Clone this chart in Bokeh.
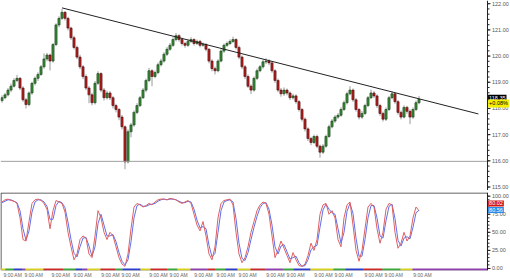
from bokeh.plotting import figure
from bokeh.layouts import column
from bokeh.models import (FixedTicker, Label, Range1d, ColumnDataSource,
                          CustomJSTickFormatter)
from bokeh.core.properties import value
from bokeh.embed import file_html
from bokeh.resources import INLINE

# ---------------- data ----------------
opens = [118.30,118.41,118.52,118.70,118.85,119.07,119.15,118.78,118.33,118.15,
118.59,118.96,119.15,119.30,119.59,119.89,120.04,119.81,120.44,121.19,
121.44,121.67,121.44,121.07,120.70,120.33,119.96,119.59,119.22,118.78,
118.52,118.22,118.96,119.33,118.70,118.41,118.59,118.41,118.11,117.96,
117.67,117.30,115.96,117.11,117.37,117.85,118.11,118.41,118.70,119.07,
119.44,119.22,119.37,119.67,119.81,120.07,120.26,120.41,120.63,120.78,
120.63,120.48,120.41,120.56,120.63,120.48,120.56,120.41,120.44,120.26,
119.81,119.52,119.44,119.81,120.19,120.41,120.48,120.56,120.63,120.33,
119.96,119.59,119.22,118.85,118.70,119.15,119.44,119.59,119.78,119.81,
119.74,119.44,119.07,118.70,118.56,118.70,118.59,118.41,118.48,118.26,
117.96,117.59,117.22,116.85,116.70,116.93,116.56,116.33,116.56,116.93,
117.30,117.52,117.67,117.74,117.96,118.22,118.56,118.70,118.33,117.96,
117.67,117.81,118.11,118.41,118.59,118.48,118.11,117.81,117.59,117.96,
118.41,118.56,118.26,117.85,117.67,118.04,117.89,117.67,117.96,118.22]

closes = [118.41,118.52,118.70,118.85,119.07,119.15,118.78,118.33,118.15,118.59,
118.96,119.15,119.30,119.59,119.89,120.04,119.81,120.44,121.19,121.44,
121.67,121.44,121.07,120.70,120.33,119.96,119.59,119.22,118.78,118.52,
118.22,118.96,119.33,118.70,118.41,118.59,118.41,118.11,117.96,117.67,
117.30,115.96,117.11,117.37,117.85,118.11,118.41,118.70,119.07,119.44,
119.22,119.37,119.67,119.81,120.07,120.26,120.41,120.63,120.78,120.63,
120.48,120.41,120.56,120.63,120.48,120.56,120.41,120.44,120.26,119.81,
119.52,119.44,119.81,120.19,120.41,120.48,120.56,120.63,120.33,119.96,
119.59,119.22,118.85,118.70,119.15,119.44,119.59,119.78,119.81,119.74,
119.44,119.07,118.70,118.56,118.70,118.59,118.41,118.48,118.26,117.96,
117.59,117.22,116.85,116.70,116.93,116.56,116.33,116.56,116.93,117.30,
117.52,117.67,117.74,117.96,118.22,118.56,118.70,118.33,117.96,117.67,
117.81,118.11,118.41,118.59,118.48,118.11,117.81,117.59,117.96,118.41,
118.56,118.26,117.85,117.67,118.04,117.89,117.67,117.96,118.22,118.35]

highs = [118.50,118.60,118.78,118.95,119.15,119.28,119.20,118.85,118.40,118.65,
119.02,119.22,119.38,119.66,120.10,120.12,120.09,120.50,121.25,121.52,
121.80,121.72,121.50,121.12,120.78,120.40,120.05,119.66,119.30,118.86,
118.60,119.05,119.42,119.38,118.78,118.68,118.66,118.48,118.18,118.02,
117.75,117.35,117.20,117.45,117.92,118.20,118.48,118.78,119.14,119.55,
119.50,119.45,119.75,119.90,120.15,120.35,120.50,120.72,120.88,120.84,
120.70,120.55,120.64,120.72,120.68,120.63,120.62,120.52,120.50,120.30,
119.88,119.60,119.88,120.26,120.48,120.56,120.64,120.74,120.68,120.40,
120.02,119.66,119.30,118.92,119.22,119.52,119.66,119.86,119.92,119.88,
119.80,119.50,119.14,118.78,118.80,118.76,118.65,118.56,118.54,118.32,
118.02,117.66,117.28,116.92,117.00,117.00,116.62,116.64,117.00,117.38,
117.60,117.75,117.82,118.04,118.30,118.64,118.85,118.76,118.40,118.02,
117.90,118.18,118.48,118.72,118.66,118.54,118.18,117.88,118.04,118.48,
118.65,118.62,118.32,117.92,118.12,118.10,117.96,118.04,118.30,118.48]

lows = [118.22,118.35,118.46,118.62,118.80,119.00,118.70,118.25,118.00,118.08,
118.52,118.88,119.05,119.24,119.52,119.80,119.45,119.75,120.38,121.10,
121.38,121.36,120.98,120.62,120.25,119.88,119.50,119.12,118.70,118.20,
118.12,118.15,118.90,118.62,118.30,118.34,118.32,118.00,117.85,117.55,
117.20,115.68,115.90,116.90,117.30,117.78,118.05,118.36,118.62,119.00,
118.85,119.15,119.30,119.60,119.75,120.00,120.20,120.35,120.56,120.55,
120.40,120.32,120.35,120.50,120.40,120.42,120.33,120.36,120.18,119.72,
119.42,119.30,119.38,119.76,120.12,120.35,120.42,120.50,120.25,119.88,
119.50,119.12,118.78,118.55,118.64,119.08,119.38,119.52,119.70,119.65,
119.36,118.98,118.62,118.45,118.48,118.50,118.32,118.34,118.18,117.88,
117.50,117.12,116.76,116.60,116.64,116.48,116.12,116.26,116.50,116.88,
117.24,117.45,117.60,117.68,117.90,118.15,118.50,118.25,117.88,117.58,
117.60,117.75,118.05,118.35,118.40,118.02,117.72,117.50,117.52,117.90,
118.35,118.18,117.76,117.58,117.62,117.80,117.40,117.60,117.90,118.16]

stoch_k = [92,95,96,94,93,90,70,40,38,65,
90,95,96,94,90,82,55,80,94,92,
90,78,50,30,12,20,40,45,42,20,
15,45,80,70,50,40,50,45,30,15,
6,3,20,55,85,90,88,85,87,90,
88,92,95,96,96,95,97,96,95,92,
90,92,94,90,75,60,52,65,45,20,
12,30,70,90,94,95,96,88,50,20,
8,15,30,50,65,80,88,92,90,75,
45,15,25,38,28,18,8,22,12,4,
3,6,18,35,25,40,75,88,90,75,
80,70,40,30,70,88,92,60,25,10,
25,55,85,90,85,55,35,50,82,90,
88,50,28,35,50,38,45,70,85,80.02]

stoch_d = [91,93,95,95,93,91,80,55,39,52,
78,92,95,95,92,86,68,68,87,93,
91,84,64,40,21,16,30,42,43,31,
17,30,62,75,60,45,45,47,37,22,
10,5,12,37,70,87,89,86,86,88,
89,90,93,95,96,95,96,96,95,93,
91,91,93,92,82,67,56,58,55,32,
16,21,50,80,92,94,95,92,69,35,
14,11,22,40,57,72,84,90,91,82,
60,30,20,31,33,23,13,15,17,8,
3,4,12,26,30,32,57,81,89,82,
77,75,55,35,50,79,90,76,42,17,
17,40,70,87,87,70,45,42,66,86,
89,69,39,31,42,44,41,57,77,80.56]

trend_x = [20, 158.8]
trend_y = [121.84, 117.79]
support_level = 115.98

last_price_text = "118.35"
change_text = "+0.08%"
k_text = "80.02"
d_text = "80.56"

price_ticks = [115, 116, 117, 118, 119, 120, 121, 122]
price_minor = [115 + 0.2 * i for i in range(36)]
osc_ticks = [0, 25, 50, 75, 100]
osc_minor = list(range(0, 105, 5))

# session (9:00 AM) markers along the time axis, in bar-index units
session_starts = [0.2, 7.2, 16.2, 23.5, 32.8, 39.5, 48.8, 55.5, 63.8, 71.2,
                  78.5, 87.8, 94.5, 103.8, 110.5, 120.5, 127.2, 136.8]
session_label = "9:00 AM"

strip_edges = [-0.5, 1.17, 3.83, 6.83, 7.83, 13.83, 20.5, 24.5, 26.83, 28.5, 32.83,
               37.83, 40.17, 46.17, 49.5, 55.17, 58.5, 62.83, 68.5, 71.17, 74.5,
               78.5, 82.83, 87.83, 93.83, 97.17, 102.83, 110.5, 114.5, 120.5,
               126.83, 132.83, 136.83, 161.83]
strip_colors = ["#d8d020", "#3aa83a", "#2c3ccc", "#9040b0", "#d8d020", "#cc2a2a",
                "#3aa83a", "#2c3ccc", "#9040b0", "#d8d020", "#cc2a2a", "#3aa83a",
                "#2c3ccc", "#d8d020", "#cc2a2a", "#3aa83a", "#d8d020", "#9040b0",
                "#cc2a2a", "#3aa83a", "#2c3ccc", "#d8d020", "#cc2a2a", "#9040b0",
                "#3aa83a", "#2c3ccc", "#d8d020", "#3aa83a", "#2c3ccc", "#cc2a2a",
                "#3aa83a", "#d8d020", "#9040b0"]

# ---------------- layout constants ----------------
FONT = "Liberation Sans"
FS = "5.5px"
X0 = -0.5          # left edge of the chart area (bar-index units, 3 px per bar)
X1 = 161.83        # price-scale line
XR = 169.5         # right edge of the picture
AXC = "#222222"
LABC = "#555555"

idx = list(range(len(closes)))
up = [c >= o for o, c in zip(opens, closes)]
src = ColumnDataSource(dict(
    x=idx, h=highs, l=lows,
    top=[max(o, c) for o, c in zip(opens, closes)],
    bot=[min(o, c) for o, c in zip(opens, closes)],
    fill=["#3b8d3b" if u else "#b52020" for u in up],
    edge=["#123d12" if u else "#4a0a0a" for u in up],
))


def price_scale(fig, ticks, minor, y0, y1):
    """Right-hand price scale drawn inside the figure so the value tags can overlap it."""
    fig.segment(x0=X1, x1=X1, y0=y0, y1=y1, line_color=AXC, line_width=1)
    fig.segment(x0=[X1] * len(minor), x1=[X1 + 0.67] * len(minor), y0=minor, y1=minor,
                line_color=AXC, line_width=1)
    fig.segment(x0=[X1] * len(ticks), x1=[X1 + 1.0] * len(ticks), y0=ticks, y1=ticks,
                line_color=AXC, line_width=1)
    fig.text(x=[X1 + 1.5] * len(ticks), y=ticks, text=["%.2f" % t for t in ticks],
             text_font=value(FONT), text_font_size=FS, text_color=LABC,
             text_baseline="middle", text_align="left")


def tag(fig, y, text, bg, fg):
    fig.add_layout(Label(x=X1 + 0.2, y=y, text=text, text_font=FONT, text_font_size=FS,
                         text_color=fg, text_baseline="middle", text_align="left",
                         background_fill_color=bg, padding=1))


# ---------------- main price panel ----------------
P_Y0, P_Y1 = 114.867, 122.122
p = figure(frame_width=510, frame_height=190,
           x_range=Range1d(X0, XR), y_range=Range1d(P_Y0, P_Y1),
           output_backend="svg", toolbar_location=None,
           x_axis_location=None, y_axis_location=None,
           min_border_left=0, min_border_top=0, min_border_bottom=0, min_border_right=0,
           background_fill_color="white", border_fill_color="white")
p.grid.visible = False
p.outline_line_color = None

p.segment(x0="x", x1="x", y0="l", y1="h", source=src, line_color="#9a9a9a", line_width=1)
p.vbar(x="x", width=0.72, top="top", bottom="bot", source=src,
       fill_color="fill", line_color="edge", line_width=0.6)

p.segment(x0=X0, x1=X1, y0=support_level, y1=support_level,
          line_color="#a0a0a0", line_width=1)
p.line(trend_x, trend_y, line_color="#222222", line_width=1)

price_scale(p, price_ticks, price_minor, P_Y0, P_Y1)
tag(p, 118.41, last_price_text, "#000000", "white")
tag(p, 118.19, change_text, "#f4f000", "#000000")

# ---------------- stochastic panel ----------------
O_Y0, O_Y1 = -2.8, 105.1
q = figure(frame_width=510, frame_height=78,
           x_range=p.x_range, y_range=Range1d(O_Y0, O_Y1),
           output_backend="svg", toolbar_location=None,
           y_axis_location=None, x_axis_location="below",
           min_border_left=0, min_border_top=2, min_border_bottom=0, min_border_right=0,
           background_fill_color="white", border_fill_color="white")
q.grid.visible = False
q.outline_line_color = None

# panel frame
q.quad(left=X0 + 0.17, right=X1, bottom=O_Y0 + 0.7, top=O_Y1 - 0.7,
       fill_color=None, line_color="#333333", line_width=1)

q.line(idx, stoch_d, line_color="#6070ee", line_width=1)
q.line(idx, stoch_k, line_color="#e06060", line_width=1)

q.quad(left=strip_edges[:-1], right=strip_edges[1:], bottom=O_Y0, top=0.0,
       fill_color=strip_colors, line_color=None)

price_scale(q, osc_ticks, osc_minor, O_Y0, O_Y1)
tag(q, 89.9, k_text, "#d01818", "white")
tag(q, 80.9, d_text, "#2a8ae8", "white")

label_centers = [s + 3.4 for s in session_starts]
xa = q.xaxis[0]
xa.ticker = FixedTicker(ticks=label_centers, minor_ticks=[])
xa.formatter = CustomJSTickFormatter(args=dict(lab=session_label), code="return lab;")
xa.major_label_text_font = FONT
xa.major_label_text_font_size = "5px"
xa.major_label_text_color = "#666666"
xa.axis_line_color = None
xa.major_tick_line_color = None
xa.minor_tick_line_color = None
xa.major_tick_out = 0
xa.major_tick_in = 0
xa.minor_tick_out = 0
xa.minor_tick_in = 0
xa.major_label_standoff = 1

layout = column(p, q, spacing=0)
open("out.html", "w").write(file_html(layout, INLINE))
